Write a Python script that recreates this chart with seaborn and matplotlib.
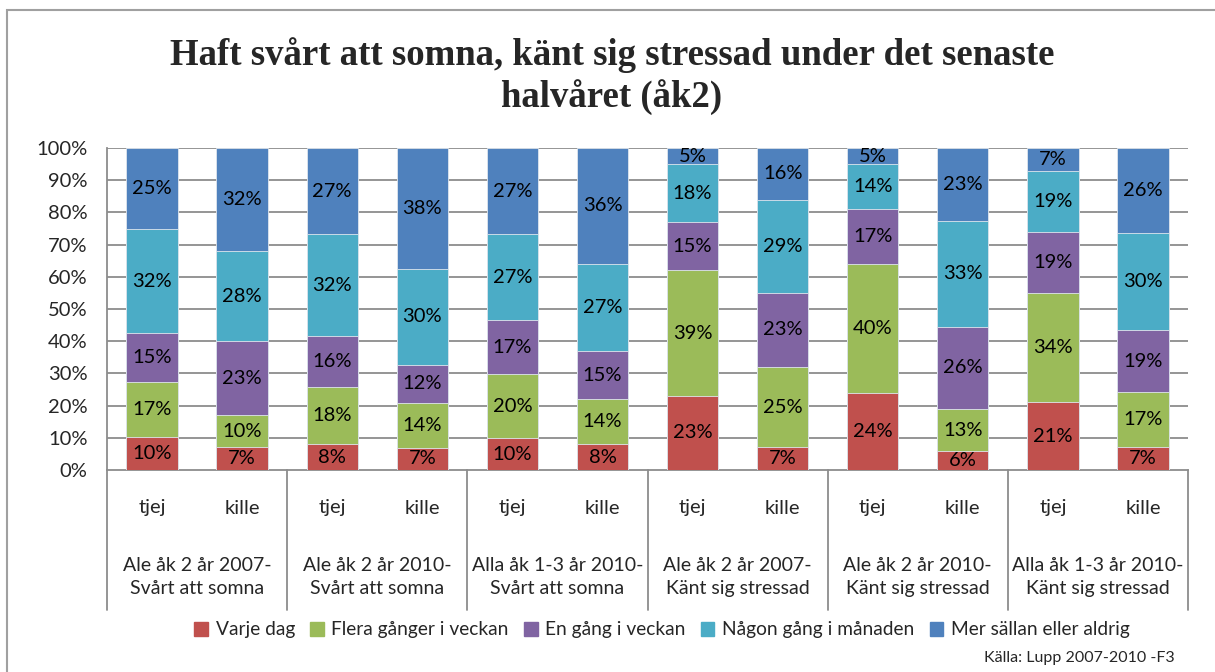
import numpy as np
import pandas as pd
import matplotlib
matplotlib.use('Agg')
import matplotlib.pyplot as plt
import matplotlib.patches as mpatches
import matplotlib.transforms as mtransforms
import seaborn as sns

# Data
groups = ['Ale åk 2 år 2007-\nSvårt att somna', 'Ale åk 2 år 2010-\nSvårt att somna',
          'Alla åk 1-3 år 2010-\nSvårt att somna', 'Ale åk 2 år 2007-\nKänt sig stressad',
          'Ale åk 2 år 2010-\nKänt sig stressad', 'Alla åk 1-3 år 2010-\nKänt sig stressad']
genders = ['tjej', 'kille']
series = ['Varje dag', 'Flera gånger i veckan', 'En gång i veckan',
          'Någon gång i månaden', 'Mer sällan eller aldrig']
varje_dag = [10, 7, 8, 7, 10, 8, 23, 7, 24, 6, 21, 7]
flera_ggr = [17, 10, 18, 14, 20, 14, 39, 25, 40, 13, 34, 17]
en_gang = [15, 23, 16, 12, 17, 15, 15, 23, 17, 26, 19, 19]
nagon_gang = [32, 28, 32, 30, 27, 27, 18, 29, 14, 33, 19, 30]
mer_sallan = [25, 32, 27, 38, 27, 36, 5, 16, 5, 23, 7, 26]
colors = ['#C0504D', '#9BBB59', '#8064A2', '#4BACC6', '#4F81BD']

vals = np.array([varje_dag, flera_ggr, en_gang, nagon_gang, mer_sallan], dtype=float)
share = vals / vals.sum(axis=0) * 100
cum = np.cumsum(share, axis=0)
bars = [f'b{i}' for i in range(12)]

sns.set_style('white')
plt.rcParams['font.family'] = ['Lato', 'DejaVu Sans']
FS = 14.5

W, H = 1215, 672
fig = plt.figure(figsize=(W / 100, H / 100), dpi=100)
L, R, T, B = 107, 1188, 148, 470
ax = fig.add_axes([L / W, 1 - B / H, (R - L) / W, (B - T) / H])

# stacked bars: draw cumulative totals from top series down
for k in range(len(series) - 1, -1, -1):
    df = pd.DataFrame({'bar': bars, 'val': cum[k]})
    sns.barplot(data=df, x='bar', y='val', color=colors[k], width=0.57,
                saturation=1, edgecolor='#dfe6ee', linewidth=0.6, ax=ax, zorder=3)

# segment labels
for k in range(len(series)):
    for i in range(12):
        mid = cum[k][i] - share[k][i] / 2
        ax.text(i, mid, f'{int(vals[k][i])}%', ha='center', va='center',
                fontsize=FS, color='black', zorder=5)

ax.set_ylim(0, 100)
ax.set_xlim(-0.5, 11.5)
ax.set_yticks(range(0, 101, 10))
ax.set_yticklabels([f'{v}%' for v in range(0, 101, 10)], fontsize=FS)
ax.tick_params(axis='y', length=0, pad=14)
ax.set_xticks([])
ax.set_xlabel('')
ax.set_ylabel('')
for v in range(10, 101, 10):
    ax.axhline(v, color='#8c8c8c', lw=1.3, zorder=1)
for s in ['top', 'right']:
    ax.spines[s].set_visible(False)
for s in ['left', 'bottom']:
    ax.spines[s].set_color('#8c8c8c')
    ax.spines[s].set_linewidth(1.3)

# category table under the axis
trans = mtransforms.blended_transform_factory(ax.transData, ax.transAxes)
depth = -(610 - B) / (B - T)
for g in range(7):
    ax.plot([g * 2 - 0.5, g * 2 - 0.5], [0, depth], transform=trans, color='#8c8c8c',
            lw=1.3, clip_on=False)
for i in range(12):
    ax.text(i, -(508 - B) / (B - T), genders[i % 2], transform=trans, ha='center',
            va='center', fontsize=FS)
for g, name in enumerate(groups):
    ax.text(g * 2 + 0.5, -(577 - B) / (B - T), name, transform=trans, ha='center',
            va='center', fontsize=14, linespacing=1.45)

# title
fig.text(612 / W, 1 - 76 / H, 'Haft svårt att somna, känt sig stressad under det senaste\nhalvåret (åk2)',
         ha='center', va='center', fontsize=26.5, fontweight='bold',
         family=['Liberation Serif', 'DejaVu Serif'], linespacing=1.2)

# legend
handles = [mpatches.Patch(color=c, label=s) for c, s in zip(colors, series)]
fig.legend(handles=handles, loc='center', bbox_to_anchor=(662 / W, 1 - 630 / H), ncol=5,
           frameon=False, fontsize=13.8, handlelength=0.7, handleheight=0.7,
           handletextpad=0.4, columnspacing=0.8)

fig.text(1175 / W, 1 - 658 / H, 'Källa: Lupp 2007-2010 -F3', ha='right', va='center', fontsize=11.5)

# outer chart border
fig.add_artist(mpatches.Rectangle((7 / W, -0.1), 1.2, 1 - 10 / H + 0.1, transform=fig.transFigure,
                                  fill=False, edgecolor='#a0a0a0', lw=1.5))

fig.savefig('out.png', dpi=100)
